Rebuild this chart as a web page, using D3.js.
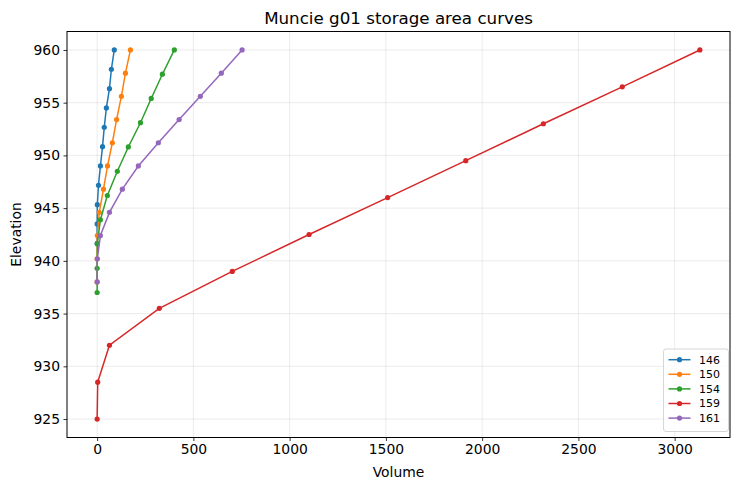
<!DOCTYPE html>
<html>
<head>
<meta charset="utf-8">
<script src="https://cdn.jsdelivr.net/npm/d3@7"></script>
<style>
  html, body { margin: 0; padding: 0; background: #fff; }
  svg { display: block; font-family: "DejaVu Sans", sans-serif; }
</style>
</head>
<body>
<div id="chart"></div>
<script>
// ---- data ----
const seriesNames = ["146", "150", "154", "159", "161"];
const colors = ["#1f77b4", "#ff7f0e", "#2ca02c", "#d62728", "#9467bd"];

const elev146 = [941.67, 943.5, 945.33, 947.17, 949.0, 950.83, 952.67, 954.5, 956.33, 958.17, 960.0];
const vol146  = [0, 0, 1, 7, 17, 28, 37, 48, 64, 74, 89];

const elev150 = [938.0, 940.2, 942.4, 944.6, 946.8, 949.0, 951.2, 953.4, 955.6, 957.8, 960.0];
const vol150  = [0, 0, 1, 11, 33, 54, 79, 101, 126, 147, 173];

const elev154 = [937.0, 939.3, 941.6, 943.9, 946.2, 948.5, 950.8, 953.1, 955.4, 957.7, 960.0];
const vol154  = [0, 0, 1, 17, 53, 105, 162, 225, 281, 339, 401];

const elev159 = [925.0, 928.5, 932.0, 935.5, 939.0, 942.5, 946.0, 949.5, 953.0, 956.5, 960.0];
const vol159  = [0, 3, 64, 323, 702, 1101, 1509, 1915, 2318, 2728, 3131];

const elev161 = [938.0, 940.2, 942.4, 944.6, 946.8, 949.0, 951.2, 953.4, 955.6, 957.8, 960.0];
const vol161  = [0, 1, 17, 64, 131, 214, 318, 426, 536, 645, 753];

const xTicks = [0, 500, 1000, 1500, 2000, 2500, 3000];
const yTicks = [925, 930, 935, 940, 945, 950, 955, 960];

const titleText = "Muncie g01 storage area curves";
const xLabel = "Volume";
const yLabel = "Elevation";

const series = [
  { name: seriesNames[0], vol: vol146, elev: elev146 },
  { name: seriesNames[1], vol: vol150, elev: elev150 },
  { name: seriesNames[2], vol: vol154, elev: elev154 },
  { name: seriesNames[3], vol: vol159, elev: elev159 },
  { name: seriesNames[4], vol: vol161, elev: elev161 },
];

// ---- layout ----
const W = 740, H = 490;
const L = 67, R = 730, T = 31.5, B = 437.5;

const allV = series.flatMap(s => s.vol);
const allE = series.flatMap(s => s.elev);
const vMin = d3.min(allV), vMax = d3.max(allV);
const eMin = d3.min(allE), eMax = d3.max(allE);
const vPad = (vMax - vMin) * 0.05, ePad = (eMax - eMin) * 0.05;

const x = d3.scaleLinear().domain([vMin - vPad, vMax + vPad]).range([L, R]);
const y = d3.scaleLinear().domain([eMin - ePad, eMax + ePad]).range([B, T]);

const svg = d3.select("#chart").append("svg").attr("width", W).attr("height", H);
svg.append("rect").attr("width", W).attr("height", H).attr("fill", "#fff");

// grid
const grid = svg.append("g");
grid.selectAll("line.gx").data(xTicks).join("line")
  .attr("x1", d => x(d)).attr("x2", d => x(d)).attr("y1", T).attr("y2", B)
  .attr("stroke", "#b0b0b0").attr("stroke-opacity", 0.3).attr("stroke-width", 0.8);
grid.selectAll("line.gy").data(yTicks).join("line")
  .attr("x1", L).attr("x2", R).attr("y1", d => y(d)).attr("y2", d => y(d))
  .attr("stroke", "#b0b0b0").attr("stroke-opacity", 0.3).attr("stroke-width", 0.8);

// series
const line = d3.line().x(d => x(d[0])).y(d => y(d[1]));
series.forEach((s, i) => {
  const pts = s.vol.map((v, j) => [v, s.elev[j]]);
  const g = svg.append("g");
  g.append("path").datum(pts).attr("d", line)
    .attr("fill", "none").attr("stroke", colors[i]).attr("stroke-width", 1.5);
  g.selectAll("circle").data(pts).join("circle")
    .attr("cx", d => x(d[0])).attr("cy", d => y(d[1])).attr("r", 2.6)
    .attr("fill", colors[i]);
});

// axes
const xAxis = d3.axisBottom(x).tickValues(xTicks).tickSize(3.5).tickPadding(3.5).tickFormat(d3.format("d"));
const yAxis = d3.axisLeft(y).tickValues(yTicks).tickSize(3.5).tickPadding(3.5).tickFormat(d3.format("d"));
const gx = svg.append("g").attr("transform", `translate(0,${B})`).call(xAxis);
const gy = svg.append("g").attr("transform", `translate(${L},0)`).call(yAxis);
[gx, gy].forEach(g => {
  g.select(".domain").remove();
  g.selectAll(".tick line").attr("stroke", "#000").attr("stroke-width", 0.8);
  g.selectAll(".tick text").attr("fill", "#000").style("font-size", "13.9px").style("font-family", "DejaVu Sans");
});

// spines
svg.append("rect").attr("x", L).attr("y", T).attr("width", R - L).attr("height", B - T)
  .attr("fill", "none").attr("stroke", "#000").attr("stroke-width", 1);

// title & labels
svg.append("text").attr("x", (L + R) / 2).attr("y", 24).attr("text-anchor", "middle")
  .style("font-size", "16.7px").text(titleText);
svg.append("text").attr("x", (L + R) / 2).attr("y", 477).attr("text-anchor", "middle")
  .style("font-size", "13.9px").text(xLabel);
svg.append("text").attr("transform", `translate(21,${(T + B) / 2}) rotate(-90)`).attr("text-anchor", "middle")
  .style("font-size", "13.9px").text(yLabel);

// legend
const lg = svg.append("g");
lg.append("rect").attr("x", 663.5).attr("y", 349).attr("width", 65).attr("height", 82.5).attr("rx", 2.5)
  .attr("fill", "#fff").attr("fill-opacity", 0.8).attr("stroke", "#cccccc").attr("stroke-width", 0.8);
series.forEach((s, i) => {
  const yy = 359.7 + i * 14.6;
  lg.append("line").attr("x1", 668.5).attr("x2", 690.5).attr("y1", yy).attr("y2", yy)
    .attr("stroke", colors[i]).attr("stroke-width", 1.5);
  lg.append("circle").attr("cx", 679.5).attr("cy", yy).attr("r", 2.6).attr("fill", colors[i]);
  lg.append("text").attr("x", 699).attr("y", yy).attr("dy", "0.35em")
    .style("font-size", "11px").text(s.name);
});
</script>
</body>
</html>
